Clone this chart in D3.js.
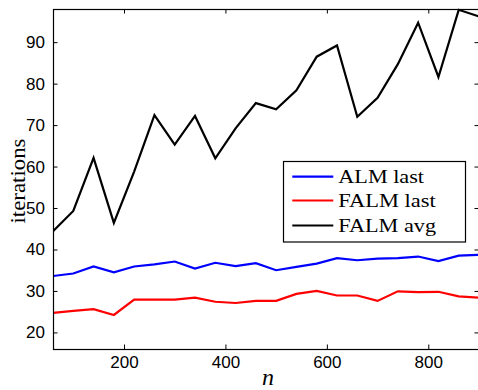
<!DOCTYPE html>
<html>
<head>
<meta charset="utf-8">
<script src="https://cdn.jsdelivr.net/npm/d3@7"></script>
<style>
	body{ margin:0; background:#fff; }
	svg{ display:block; }
</style>
</head>
<body>
<script>
var nValues = [60, 100, 140, 180, 220, 260, 300, 340, 380, 420, 460, 500, 540, 580, 620, 660, 700, 740, 780, 820, 860, 900];
var almLast = [33.6, 34.2, 35.9, 34.5, 35.9, 36.4, 37.1, 35.4, 36.8, 36.0, 36.7, 35.0, 35.8, 36.6, 37.9, 37.4, 37.8, 37.9, 38.3, 37.2, 38.5, 38.7];
var falmLast = [24.7, 25.2, 25.6, 24.2, 27.9, 27.9, 27.9, 28.4, 27.4, 27.1, 27.6, 27.6, 29.3, 30.0, 28.9, 28.9, 27.6, 29.9, 29.7, 29.8, 28.7, 28.4];
var falmAvg = [44.4, 49.3, 62.1, 46.4, 58.8, 72.4, 65.3, 72.2, 62.0, 69.2, 75.3, 73.8, 78.4, 86.5, 89.2, 72.0, 76.6, 84.7, 94.7, 81.6, 97.8, 96.2];
var xTicks = [200, 400, 600, 800];
var yTicks = [20, 30, 40, 50, 60, 70, 80, 90];

var seriesNames = ['ALM last', 'FALM last', 'FALM avg'];
var seriesColors = ['#0000ff', '#ff0000', '#000000'];
var seriesData = [almLast, falmLast, falmAvg];

var W = 478, H = 390;
var pLeft = 53, pRight = 479, pTop = 9, pBottom = 349;

var svg = d3.select('body')
	.append('svg')
	.attr('width', W)
	.attr('height', H);

var x = d3.scaleLinear().domain([60, 900]).range([pLeft, pRight]);
var y = d3.scaleLinear().domain([16, 98]).range([pBottom, pTop]);

svg.append('defs')
	.append('clipPath')
	.attr('id', 'plot')
	.append('rect')
	.attr('x', pLeft)
	.attr('y', pTop - 1)
	.attr('width', pRight - pLeft)
	.attr('height', pBottom - pTop + 1);

// lines
var line = d3.line()
	.x(function(d, i){ return x(nValues[i]); })
	.y(function(d){ return y(d); });

var g = svg.append('g').attr('clip-path', 'url(#plot)');
for(let i = 0; i < seriesData.length; i++){
	g.append('path')
		.datum(seriesData[i])
		.attr('d', line)
		.attr('fill', 'none')
		.attr('stroke', seriesColors[i])
		.attr('stroke-width', 2.2)
		.attr('stroke-linejoin', 'miter');
}

// axes (ticks inward on all sides)
var tickLen = 4.5;
var font = '"Liberation Sans", Arial, sans-serif';

svg.append('g')
	.attr('transform', 'translate(0,' + pBottom + ')')
	.call(d3.axisBottom(x).tickValues(xTicks).tickSizeInner(-tickLen).tickSizeOuter(0).tickPadding(7))
	.call(function(a){
		a.select('.domain').remove();
		a.selectAll('text').attr('font-family', font).attr('font-size', 17).attr('fill', '#000');
	});

svg.append('g')
	.attr('transform', 'translate(0,' + pTop + ')')
	.call(d3.axisTop(x).tickValues(xTicks).tickSizeInner(-tickLen).tickSizeOuter(0).tickFormat(''))
	.call(function(a){ a.select('.domain').remove(); });

svg.append('g')
	.attr('transform', 'translate(' + pLeft + ',0)')
	.call(d3.axisLeft(y).tickValues(yTicks).tickSizeInner(-tickLen).tickSizeOuter(0).tickPadding(8))
	.call(function(a){
		a.select('.domain').remove();
		a.selectAll('text').attr('font-family', font).attr('font-size', 17).attr('fill', '#000');
	});

svg.append('g')
	.attr('transform', 'translate(' + pRight + ',0)')
	.call(d3.axisRight(y).tickValues(yTicks).tickSizeInner(-tickLen).tickSizeOuter(0).tickFormat(''))
	.call(function(a){ a.select('.domain').remove(); });

svg.selectAll('.tick line').attr('stroke', '#000').attr('stroke-width', 1);

svg.append('rect')
	.attr('x', pLeft + 0.5)
	.attr('y', pTop + 0.5)
	.attr('width', pRight - pLeft)
	.attr('height', pBottom - pTop)
	.attr('fill', 'none')
	.attr('stroke', '#000')
	.attr('stroke-width', 1.2);

// labels
var serif = '"Liberation Serif", "Times New Roman", serif';
svg.append('text')
	.attr('transform', 'translate(25,181) rotate(-90)')
	.attr('text-anchor', 'middle')
	.attr('font-family', serif)
	.attr('font-size', 21)
	.attr('textLength', 85)
	.attr('lengthAdjust', 'spacingAndGlyphs')
	.text('iterations');

svg.append('text')
	.attr('x', 268)
	.attr('y', 385)
	.attr('text-anchor', 'middle')
	.attr('font-family', serif)
	.attr('font-style', 'italic')
	.attr('font-size', 24)
	.text('n');

// legend
var legend = svg.append('g');
legend.append('rect')
	.attr('x', 283.5)
	.attr('y', 161.5)
	.attr('width', 182)
	.attr('height', 80.5)
	.attr('fill', '#fff')
	.attr('stroke', '#000')
	.attr('stroke-width', 1.2);

var rowY = [176.7, 200.5, 225.5];
var textW = [85.7, 97.4, 97.7];
for(let i = 0; i < seriesNames.length; i++){
	legend.append('line')
		.attr('x1', 292.3)
		.attr('x2', 333.3)
		.attr('y1', rowY[i])
		.attr('y2', rowY[i])
		.attr('stroke', seriesColors[i])
		.attr('stroke-width', 2.2);
	legend.append('text')
		.attr('x', 338.3)
		.attr('y', rowY[i] + 6.5)
		.attr('font-family', serif)
		.attr('font-size', 19)
		.attr('textLength', textW[i])
		.attr('lengthAdjust', 'spacingAndGlyphs')
		.text(seriesNames[i]);
}
</script>
</body>
</html>
